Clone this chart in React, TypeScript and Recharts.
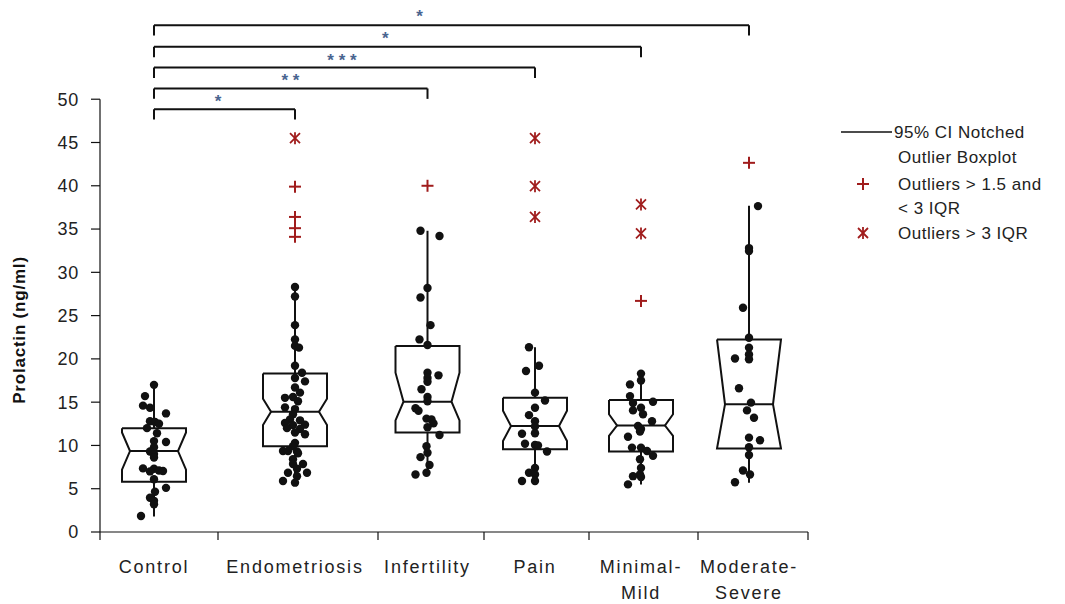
import { ComposedChart, XAxis, YAxis, Scatter, ReferenceLine, Legend } from 'recharts'

// group labels (split into lines) and where each group sits on the x scale (1 unit = 100px of axis)
const categoryLines = [['Control'], ['Endometriosis'], ['Infertility'], ['Pain'], ['Minimal-', 'Mild'], ['Moderate-', 'Severe']]
const centers = [0.54, 1.95, 3.275, 4.35, 5.41, 6.49]
const bandEdges = [0, 1.18, 2.78, 3.84, 4.89, 5.98, 7.08]

const yTicks = [0, 5, 10, 15, 20, 25, 30, 35, 40, 45, 50]

// box statistics (ng/ml)
const whiskerLow = [1.8, 5.7, 6.6, 5.9, 5.5, 5.7]
const q1 = [5.8, 9.9, 11.5, 9.55, 9.3, 9.65]
const median = [9.35, 13.9, 15.05, 12.25, 12.3, 14.75]
const q3 = [12.0, 18.3, 21.5, 15.5, 15.25, 22.25]
const whiskerHigh = [17.0, 28.3, 34.8, 21.35, 18.3, 37.7]
const notchLow = [7.2, 12.35, 12.9, 10.5, 11.1, 9.65]
const notchHigh = [11.5, 15.4, 18.4, 14.0, 13.6, 22.25]

// outliers > 1.5 and < 3 IQR, and > 3 IQR
const mildOutliers = [[], [39.9, 36.4, 35.1, 34.1], [40.0], [], [26.7], [42.65]]
const extremeOutliers = [[], [45.5], [], [45.5, 39.95, 36.4], [37.85, 34.5], []]

// individual values: [value, jitter]
const controlPts = [
  [17.0, 0], [15.7, -0.09], [14.6, -0.11], [14.35, -0.04], [13.7, 0.12], [12.8, -0.04], [12.7, 0.01],
  [12.5, 0.05], [12.0, -0.07], [11.4, 0.03], [10.5, 0], [10.4, 0.12], [9.8, 0], [9.3, -0.04], [9.0, 0],
  [8.6, 0], [7.35, -0.11], [7.3, 0], [7.1, 0.05], [7.05, 0.09], [7.0, -0.04], [6.1, 0], [5.1, 0.12],
  [4.65, 0.01], [3.96, -0.04], [3.6, 0], [3.2, 0], [1.85, -0.13],
]
const endoPts = [
  [28.3, 0], [27.2, 0], [23.9, 0], [22.25, 0], [21.5, 0], [21.3, 0.04], [19.2, 0], [18.4, 0.07],
  [17.8, 0], [17.4, 0.1], [16.7, 0], [16.1, 0.05], [15.6, -0.02], [15.5, -0.1], [15.1, 0.03], [14.4, -0.1],
  [14.2, 0], [13.6, -0.02], [13.0, -0.05], [12.9, 0.05], [12.6, -0.1], [12.4, 0.1], [12.35, -0.02],
  [12.0, -0.08], [11.9, 0.05], [11.5, 0], [11.3, 0.1], [10.3, 0], [9.9, -0.02], [9.35, -0.12], [9.3, 0.02],
  [9.35, -0.07], [9.1, 0.03], [8.4, -0.02], [7.85, -0.02], [7.85, 0.08], [7.3, 0.02], [6.85, 0.12],
  [6.85, -0.07], [6.45, 0.02], [5.9, -0.12], [5.7, 0],
]
const infertilityPts = [
  [34.8, -0.07], [34.2, 0.12], [28.2, 0], [27.1, -0.07], [23.9, 0.03], [22.25, -0.08], [21.6, 0],
  [18.4, 0], [18.1, 0.11], [17.8, 0], [17.35, 0], [16.5, -0.06], [15.6, 0], [15.1, 0], [14.3, -0.12],
  [14.0, -0.09], [13.1, -0.01], [13.0, 0.04], [12.55, 0.06], [12.1, 0], [11.2, 0.12], [9.9, -0.01],
  [9.15, 0], [8.65, -0.07], [7.75, 0.02], [6.65, -0.12], [6.85, -0.01],
]
const painPts = [
  [21.35, -0.06], [19.2, 0.04], [18.6, -0.09], [16.1, 0], [15.2, 0.1], [14.35, 0], [13.5, -0.06],
  [12.8, 0], [12.2, 0], [11.35, -0.13], [11.4, 0], [10.2, -0.1], [10.05, 0], [10.0, 0.03], [9.3, 0.12],
  [7.4, 0], [6.85, -0.06], [6.65, 0], [5.9, -0.13], [5.9, 0],
]
const minimalPts = [
  [18.3, 0], [17.5, 0], [17.05, -0.11], [15.7, -0.11], [15.05, 0.12], [14.9, -0.08], [14.35, 0],
  [14.05, -0.08], [13.6, 0.02], [12.8, 0.11], [12.25, -0.03], [11.9, 0], [11.6, -0.01], [11.0, -0.13],
  [9.75, -0.09], [9.75, 0], [9.35, 0.06], [8.8, 0.12], [8.4, -0.01], [7.4, 0], [6.65, -0.01],
  [6.45, -0.08], [6.35, 0], [5.5, -0.13],
]
const moderatePts = [
  [37.65, 0.09], [32.8, 0], [32.45, 0], [25.9, -0.06], [22.45, 0], [21.3, 0], [20.5, 0], [19.95, 0],
  [20.05, -0.14], [16.6, -0.1], [14.95, 0.02], [14.05, -0.02], [13.2, 0.05], [10.9, 0], [10.6, 0.11],
  [9.8, 0], [8.9, 0], [7.1, -0.06], [6.65, 0.01], [5.75, -0.14],
]
const groupPoints = [controlPts, endoPts, infertilityPts, painPts, minimalPts, moderatePts]

// Control vs each group
const comparisons = [
  { to: 1, label: '*', height: 48.85, labelX: 1.18, labelY: 50.0 },
  { to: 2, label: '* *', height: 51.24, labelX: 1.905, labelY: 52.4 },
  { to: 3, label: '* * *', height: 53.66, labelX: 2.42, labelY: 54.8 },
  { to: 4, label: '*', height: 56.05, labelX: 2.853, labelY: 57.3 },
  { to: 5, label: '*', height: 58.55, labelX: 3.196, labelY: 59.9 },
]

const FONT = '"Liberation Sans", Arial, sans-serif'
const INK = '#111'
const RED = '#a01c1c'
const STAR_BLUE = '#4a6590'
const BOX_W = 0.64
const NOTCH_W = 0.48
const DROP = 1.2

const dots = groupPoints.flatMap((pts, i) => pts.map(([v, j]) => ({ x: centers[i] + j, y: v })))
const mildData = mildOutliers.flatMap((vals, i) => vals.map((v) => ({ x: centers[i], y: v })))
const extremeData = extremeOutliers.flatMap((vals, i) => vals.map((v) => ({ x: centers[i], y: v })))
const starData = comparisons.map((c) => ({ x: c.labelX, y: c.labelY, label: c.label }))

function boxPath(i: number) {
  const c = centers[i]
  const h = BOX_W / 2
  const n = NOTCH_W / 2
  return [
    { x: c - h, y: q3[i] }, { x: c + h, y: q3[i] }, { x: c + h, y: notchHigh[i] },
    { x: c + n, y: median[i] }, { x: c + h, y: notchLow[i] }, { x: c + h, y: q1[i] },
    { x: c - h, y: q1[i] }, { x: c - h, y: notchLow[i] }, { x: c - n, y: median[i] },
    { x: c - h, y: notchHigh[i] }, { x: c - h, y: q3[i] },
  ]
}

const Dot = (p: any) => <circle cx={p.cx} cy={p.cy} r={4.2} fill={INK} />
const Nothing = () => <g />

function PlusMark({ cx, cy }: any) {
  return (
    <g stroke={RED} strokeWidth={2}>
      <line x1={cx - 6} x2={cx + 6} y1={cy} y2={cy} />
      <line x1={cx} x2={cx} y1={cy - 6} y2={cy + 6} />
    </g>
  )
}

function StarMark({ cx, cy }: any) {
  return (
    <g stroke={RED} strokeWidth={1.8}>
      <line x1={cx - 5} x2={cx + 5} y1={cy - 5} y2={cy + 5} />
      <line x1={cx - 5} x2={cx + 5} y1={cy + 5} y2={cy - 5} />
      <line x1={cx} x2={cx} y1={cy - 6} y2={cy + 6} />
    </g>
  )
}

const SigLabel = (p: any) => (
  <text x={p.cx} y={p.cy + 8} textAnchor="middle" fontFamily={FONT} fontSize={17} fontWeight="bold" fill={STAR_BLUE}>
    {p.payload.label}
  </text>
)

function XTick(props: any) {
  const { x, y, payload } = props
  const idx = centers.indexOf(payload.value)
  if (idx < 0) {
    return <line x1={x} x2={x} y1={y} y2={y + 8} stroke={INK} strokeWidth={1.2} />
  }
  return (
    <text x={x} y={y + 41} textAnchor="middle" fontFamily={FONT} fontSize={18} fill="#222" letterSpacing={1.8}>
      {categoryLines[idx].map((line, k) => (
        <tspan key={k} x={x} dy={k === 0 ? 0 : 26}>{line}</tspan>
      ))}
    </text>
  )
}

function YLabel(props: any) {
  const vb = props.viewBox
  const cx = vb.x + 25
  const cy = vb.y + vb.height / 2 + 62
  return (
    <text transform={`translate(${cx},${cy}) rotate(-90)`} textAnchor="middle" fontFamily={FONT}
      fontSize={17} fontWeight="bold" fill={INK} letterSpacing={0.8}>
      Prolactin (ng/ml)
    </text>
  )
}

function LegendBox() {
  const t = { fontFamily: FONT, fontSize: 17, fill: '#222', letterSpacing: 0.5 }
  return (
    <svg width={235} height={140}>
      <line x1={11} x2={62} y1={22} y2={22} stroke={INK} strokeWidth={1.5} />
      <text x={64} y={28} {...t}>95% CI Notched</text>
      <text x={68} y={53} {...t}>Outlier Boxplot</text>
      <PlusMark cx={33} cy={74} />
      <text x={68} y={80} {...t}>Outliers &gt; 1.5 and</text>
      <text x={68} y={104} {...t}>&lt; 3 IQR</text>
      <StarMark cx={33} cy={123} />
      <text x={68} y={129} {...t}>Outliers &gt; 3 IQR</text>
    </svg>
  )
}

export default function App() {
  return (
    <div style={{ position: 'absolute', left: 0, top: 0, width: 1065, height: 604, background: '#fff' }}>
      <ComposedChart width={1065} height={604} margin={{ top: 4, right: 257, left: 0, bottom: 0 }}>
        <XAxis
          type="number"
          dataKey="x"
          domain={[0, 7.08]}
          ticks={[...bandEdges, ...centers]}
          interval={0}
          tickLine={false}
          tickSize={0}
          tickMargin={0}
          tick={<XTick />}
          height={72}
          axisLine={{ stroke: INK, strokeWidth: 1.2 }}
          allowDataOverflow
        />
        <YAxis
          type="number"
          dataKey="y"
          domain={[0, 61]}
          ticks={yTicks}
          interval={0}
          width={100}
          axisLine={false}
          tickLine={{ stroke: INK, strokeWidth: 1.2 }}
          tickSize={9}
          tickMargin={12}
          tick={{ fontSize: 18, fill: '#222', fontFamily: FONT, letterSpacing: 0.8 }}
          label={{ content: <YLabel /> }}
          allowDataOverflow
        />
        <ReferenceLine segment={[{ x: 0, y: 0 }, { x: 0, y: 50 }]} stroke={INK} strokeWidth={1.2} ifOverflow="visible" />

        {centers.map((c, i) => (
          <ReferenceLine key={`wh${i}`} segment={[{ x: c, y: q3[i] }, { x: c, y: whiskerHigh[i] }]} stroke={INK} strokeWidth={2} />
        ))}
        {centers.map((c, i) => (
          <ReferenceLine key={`wl${i}`} segment={[{ x: c, y: q1[i] }, { x: c, y: whiskerLow[i] }]} stroke={INK} strokeWidth={2} />
        ))}
        {centers.map((c, i) => (
          <ReferenceLine key={`md${i}`} segment={[{ x: c - NOTCH_W / 2, y: median[i] }, { x: c + NOTCH_W / 2, y: median[i] }]} stroke={INK} strokeWidth={2} />
        ))}
        {centers.map((_, i) => (
          <Scatter key={`box${i}`} data={boxPath(i)} line={{ stroke: INK, strokeWidth: 2, fill: 'none' }} shape={<Nothing />} isAnimationActive={false} />
        ))}

        {comparisons.map((c) => (
          <ReferenceLine key={`br${c.to}`} ifOverflow="visible" stroke={INK} strokeWidth={2}
            segment={[{ x: centers[0], y: c.height }, { x: centers[c.to], y: c.height }]} />
        ))}
        {comparisons.map((c) => (
          <ReferenceLine key={`bl${c.to}`} ifOverflow="visible" stroke={INK} strokeWidth={2}
            segment={[{ x: centers[0], y: c.height }, { x: centers[0], y: c.height - DROP }]} />
        ))}
        {comparisons.map((c) => (
          <ReferenceLine key={`bri${c.to}`} ifOverflow="visible" stroke={INK} strokeWidth={2}
            segment={[{ x: centers[c.to], y: c.height }, { x: centers[c.to], y: c.height - DROP }]} />
        ))}

        <Scatter data={dots} shape={<Dot />} isAnimationActive={false} />
        <Scatter data={mildData} shape={<PlusMark />} isAnimationActive={false} />
        <Scatter data={extremeData} shape={<StarMark />} isAnimationActive={false} />
        <Scatter data={starData} shape={<SigLabel />} isAnimationActive={false} />

        <Legend
          layout="horizontal"
          verticalAlign="middle"
          align="center"
          wrapperStyle={{ left: 830, top: 110, width: 235, height: 140 }}
          content={<LegendBox />}
        />
      </ComposedChart>
    </div>
  )
}
